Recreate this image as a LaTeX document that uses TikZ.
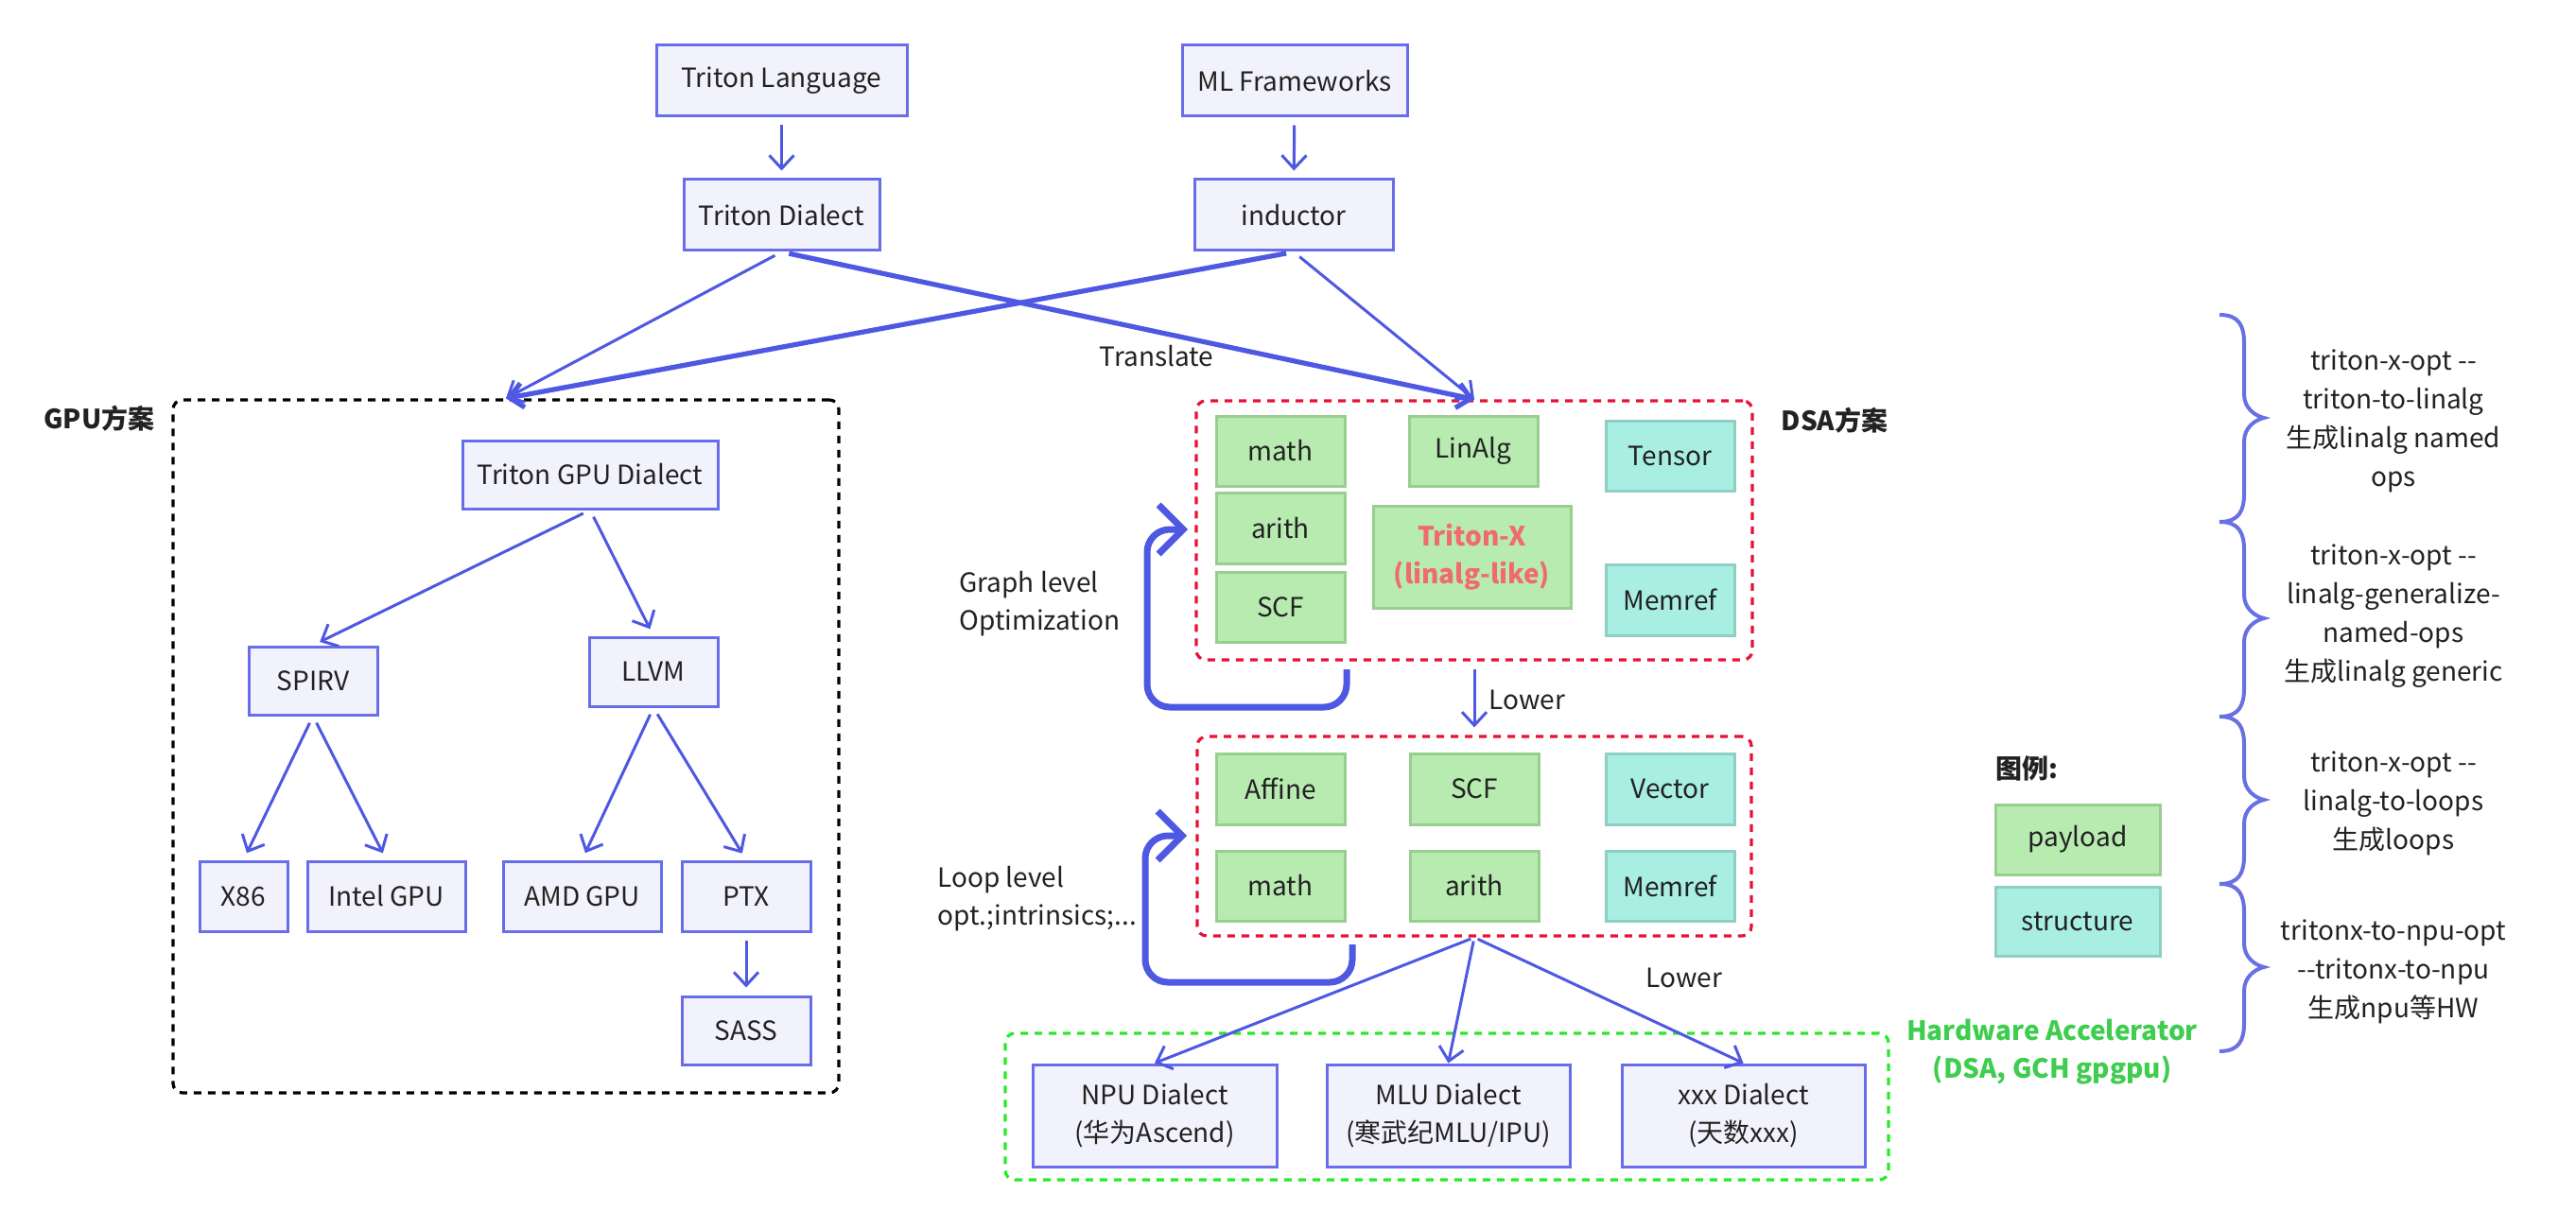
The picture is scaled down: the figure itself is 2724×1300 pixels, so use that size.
\documentclass[tikz,border=0pt]{standalone}
\usepackage{fontspec}
\setmainfont{Noto Sans CJK SC}
\usetikzlibrary{arrows.meta}
\definecolor{bfill}{RGB}{242,242,252}
\definecolor{bdraw}{RGB}{104,110,232}
\definecolor{arr}{RGB}{78,88,226}
\definecolor{gfill}{RGB}{183,235,176}
\definecolor{gdraw}{RGB}{152,206,144}
\definecolor{tfill}{RGB}{168,238,226}
\definecolor{tdraw}{RGB}{143,206,196}
\definecolor{redd}{RGB}{232,18,52}
\definecolor{greend}{RGB}{40,235,40}
\definecolor{hwtext}{RGB}{62,205,78}
\definecolor{txred}{RGB}{240,108,108}
\definecolor{txt}{RGB}{34,34,34}
\definecolor{bracec}{RGB}{104,112,226}
\newcommand{\mybrace}[3]{%
  \draw[bracestyle] (2347,#1) .. controls (2368,#1) and (2373,#1+12) .. (2373,#1+30)
    -- (2373,#2-25) .. controls (2373,#2-10) and (2385,#2-2) .. (2394,#2)
    .. controls (2385,#2+2) and (2373,#2+10) .. (2373,#2+25)
    -- (2373,#3-30) .. controls (2373,#3-12) and (2368,#3) .. (2347,#3);}
\begin{document}
\begin{tikzpicture}[x=0.5pt,y=-0.5pt,
  base/.style={rectangle, inner sep=0pt, font=\fontsize{14}{20}\selectfont, text=txt, line width=1.5pt, align=center},
  bbox/.style={base, draw=bdraw, fill=bfill},
  gbox/.style={base, draw=gdraw, fill=gfill},
  tbox/.style={base, draw=tdraw, fill=tfill},
  sz/.style 2 args={minimum width=#1*0.5pt, minimum height=#2*0.5pt},
  container/.style={rectangle, inner sep=0pt, rounded corners=5pt, line width=1.6pt, dash pattern=on 4pt off 3.5pt},
  lbl/.style={inner sep=0pt, font=\fontsize{14}{20}\selectfont, text=txt},
  bold/.style={inner sep=0pt, font=\fontsize{14}{20}\selectfont\bfseries, text=txt},
  conn/.style={draw=arr, line width=1.5pt, -{Straight Barb[length=7pt,width=13pt]}, shorten >=4pt, shorten <=4pt},
  heavy/.style={line width=2.6pt},
  loopa/.style={draw=arr, line width=3.5pt, rounded corners=12pt, -{Straight Barb[length=13pt,width=26pt]}},
  bracestyle/.style={draw=bracec, line width=2pt},
  note/.style={inner sep=0pt, font=\fontsize{14}{20.5}\selectfont, text=txt, align=center}
]
\useasboundingbox (0,0) rectangle (2724,1300);
\fill[white] (0,0) rectangle (2724,1300);

% top
\node[bbox, sz={265}{75}] (tl) at (826.5,85.5) {Triton Language};
\node[bbox, sz={238}{75}] (mlf) at (1369,85.5) {ML Frameworks};
\node[bbox, sz={207}{75}] (td) at (826.5,227.5) {Triton Dialect};
\node[bbox, sz={210}{75}] (ind) at (1368,227.5) {inductor};

% GPU
\node[container, draw=black, sz={704}{733}] (gpu) at (535,789.5) {};
\node[bold, anchor=center] (gpulbl) at (105,443) {GPU方案};
\node[bbox, sz={270}{72}] (tgd) at (624,502) {Triton GPU Dialect};
\node[bbox, sz={136}{72}] (spirv) at (331,720) {SPIRV};
\node[bbox, sz={136}{73}] (llvm) at (691,710.5) {LLVM};
\node[bbox, sz={93}{74}] (x86) at (257.5,948) {X86};
\node[bbox, sz={167}{74}] (intel) at (408.5,948) {Intel GPU};
\node[bbox, sz={167}{74}] (amd) at (615.5,948) {AMD GPU};
\node[bbox, sz={136}{74}] (ptx) at (789,948) {PTX};
\node[bbox, sz={136}{72}] (sass) at (789,1090) {SASS};

% DSA 1
\node[container, draw=redd, sz={588}{274}] (dsa1) at (1559,561) {};
\node[bold] (dsalbl) at (1940,445) {DSA方案};
\node[gbox, sz={136}{74}] (math1) at (1354,477) {math};
\node[gbox, sz={136}{74}] (linalg) at (1558,477) {LinAlg};
\node[tbox, sz={136}{74}] (tensor) at (1766,482) {Tensor};
\node[gbox, sz={136}{75}] (arith1) at (1354,558.5) {arith};
\node[gbox, sz={136}{74}] (scf1) at (1354,642) {SCF};
\node[gbox, sz={209}{108}, text=txred, font=\fontsize{14}{20}\selectfont\bfseries] (tritonx) at (1556.5,589) {Triton-X\\(linalg-like)};
\node[tbox, sz={136}{75}] (memref1) at (1766,634.5) {Memref};

% DSA 2
\node[container, draw=redd, sz={586}{211}] (dsa2) at (1559,884.5) {};
\node[gbox, sz={136}{75}] (affine) at (1354,834.5) {Affine};
\node[gbox, sz={136}{75}] (scf2) at (1559,834.5) {SCF};
\node[tbox, sz={136}{75}] (vector) at (1766,834.5) {Vector};
\node[gbox, sz={136}{74}] (math2) at (1354,937) {math};
\node[gbox, sz={136}{74}] (arith2) at (1559,937) {arith};
\node[tbox, sz={136}{74}] (memref2) at (1766,937) {Memref};

% HW
\node[container, draw=greend, sz={934}{155}] (hw) at (1530,1170.5) {};
\node[bbox, sz={258}{108}] (npu) at (1221,1180) {NPU Dialect\\(华为Ascend)};
\node[bbox, sz={257}{108}] (mlu) at (1531.5,1180) {MLU Dialect\\(寒武纪MLU/IPU)};
\node[bbox, sz={257}{108}] (xxx) at (1843.5,1180) {xxx Dialect\\(天数xxx)};
\node[inner sep=0pt, font=\fontsize{14}{20}\selectfont\bfseries, text=hwtext, align=center] (hwlbl) at (2170,1113) {Hardware Accelerator\\(DSA, GCH gpgpu)};

% legend
\node[bold, anchor=west] (leg) at (2110,813) {图例:};
\node[gbox, sz={174}{74}] (payload) at (2197,888) {payload};
\node[tbox, sz={174}{73}] (structure) at (2197,974.5) {structure};

% labels
\node[lbl] (translate) at (1223,377) {Translate};
\node[lbl, anchor=west] (lower1) at (1574,740) {Lower};
\node[lbl] (lower2) at (1781,1034) {Lower};
\node[lbl, anchor=west, align=left] (graphopt) at (1014,639) {Graph level\\Optimization};
\node[lbl, anchor=west, align=left] (loopopt) at (991,951) {Loop level\\opt.;intrinsics;...};

% connectors
\draw[conn] (tl) -- (td);
\draw[conn] (mlf) -- (ind);
\draw[conn, shorten >=0pt] (td.south) -- (gpu.north);
\draw[conn, heavy, shorten >=0pt] (ind.south) -- (gpu.north);
\draw[conn, heavy, shorten >=0pt] (td.south) -- (dsa1.north);
\draw[conn, shorten >=0pt] (ind.south) -- (dsa1.north);

\draw[conn] (tgd.south) -- (spirv.north);
\draw[conn] (tgd.south) -- (llvm.north);
\draw[conn] (spirv.south) -- (x86.north);
\draw[conn] (spirv.south) -- (intel.north);
\draw[conn] (llvm.south) -- (amd.north);
\draw[conn] (llvm.south) -- (ptx.north);
\draw[conn] (ptx) -- (sass);

\draw[conn] (dsa1.south) -- (dsa2.north);
\draw[conn, shorten >=0pt, shorten <=2pt] (dsa2.south) -- (npu.north);
\draw[conn, shorten >=0pt, shorten <=2pt] (dsa2.south) -- (mlu.north);
\draw[conn, shorten >=0pt, shorten <=2pt] (dsa2.south) -- (xxx.north);

% loop arrows
\coordinate (la1) at (1424,708);
\coordinate (la1c) at (1213,748);
\coordinate (la1e) at (1256,560);
\draw[loopa] (la1) |- (la1c) |- (la1e);
\coordinate (la2) at (1430,999);
\coordinate (la2c) at (1211,1039);
\coordinate (la2e) at (1255,884);
\draw[loopa] (la2) |- (la2c) |- (la2e);

% braces
\mybrace{333}{442}{552}
\mybrace{552}{654}{758}
\mybrace{758}{846}{935}
\mybrace{935}{1023}{1112}

\node[note] (n1) at (2531,445.5) {triton-x-opt -{}-\\triton-to-linalg\\生成linalg named\\ops};
\node[note] (n2) at (2531,652) {triton-x-opt -{}-\\linalg-generalize-\\named-ops\\生成linalg generic};
\node[note] (n3) at (2531,850) {triton-x-opt -{}-\\linalg-to-loops\\生成loops};
\node[note] (n4) at (2531,1028) {tritonx-to-npu-opt\\-{}-tritonx-to-npu\\生成npu等HW};
\end{tikzpicture}
\end{document}
